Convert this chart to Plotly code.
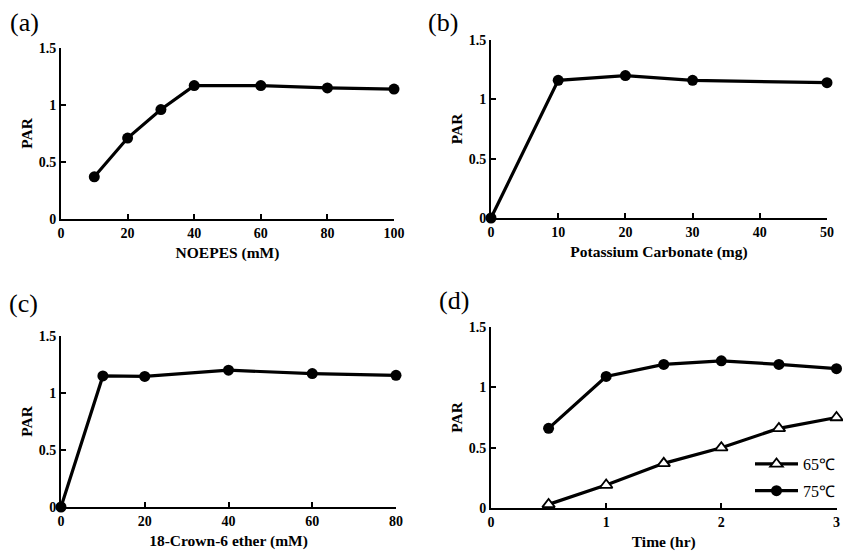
import plotly.graph_objects as go

# ---- data ----
a_x = [10, 20, 30, 40, 60, 80, 100]
a_y = [0.37, 0.71, 0.96, 1.17, 1.17, 1.15, 1.14]

b_x = [0, 10, 20, 30, 50]
b_y = [0.0, 1.16, 1.20, 1.16, 1.14]

c_x = [0, 10, 20, 40, 60, 80]
c_y = [0.0, 1.15, 1.145, 1.20, 1.17, 1.155]

d_x = [0.5, 1, 1.5, 2, 2.5, 3]
d_y65 = [0.03, 0.19, 0.37, 0.50, 0.66, 0.75]
d_y75 = [0.66, 1.09, 1.19, 1.22, 1.19, 1.155]

W, H = 843, 554
SERIF = "Liberation Serif"

fig = go.Figure()

line = dict(color="black", width=3.2)
circ = dict(symbol="circle", size=11, color="black")

fig.add_trace(go.Scatter(x=a_x, y=a_y, mode="lines+markers", line=line, marker=circ,
                         xaxis="x", yaxis="y", showlegend=False, cliponaxis=False))
fig.add_trace(go.Scatter(x=b_x, y=b_y, mode="lines+markers", line=line, marker=circ,
                         xaxis="x2", yaxis="y2", showlegend=False, cliponaxis=False))
fig.add_trace(go.Scatter(x=c_x, y=c_y, mode="lines+markers", line=line, marker=circ,
                         xaxis="x3", yaxis="y3", showlegend=False, cliponaxis=False))
fig.add_trace(go.Scatter(x=d_x, y=d_y65, mode="lines+markers", line=line,
                         marker=dict(symbol="triangle-up", size=11, color="white",
                                     line=dict(color="black", width=1.8)),
                         xaxis="x4", yaxis="y4", name="65℃", legendgroup="g1", cliponaxis=False))
fig.add_trace(go.Scatter(x=d_x, y=d_y75, mode="lines+markers", line=line, marker=circ,
                         xaxis="x4", yaxis="y4", name="75℃", legendgroup="g2", cliponaxis=False))

def px_x(p):
    return p / W

def px_y(p):
    return 1 - p / H

tickfont = dict(family=SERIF, size=14, color="black", weight="bold")
titlefont = dict(family=SERIF, size=15.5, color="black", weight="bold")

def xax(domain, anchor, rng, dtick, title):
    return dict(domain=domain, anchor=anchor, range=rng, dtick=dtick, tick0=0,
                showgrid=False, zeroline=False, showline=True, linecolor="black", linewidth=2,
                ticks="inside", ticklen=5, tickwidth=2, tickcolor="black",
                tickfont=tickfont, title=dict(text=title, font=titlefont, standoff=7),
                automargin=False, fixedrange=True)

def yax(domain, anchor, title):
    return dict(domain=domain, anchor=anchor, range=[0, 1.5], dtick=0.5, tick0=0,
                showgrid=False, zeroline=False, showline=True, linecolor="black", linewidth=2,
                ticks="inside", ticklen=5, tickwidth=2, tickcolor="black",
                tickfont=tickfont, title=dict(text=title, font=titlefont, standoff=2),
                automargin=False, fixedrange=True)

fig.update_layout(
    width=W, height=H,
    margin=dict(l=0, r=0, t=0, b=0),
    paper_bgcolor="white", plot_bgcolor="white",
    font=dict(family=SERIF, color="black"),
    xaxis=xax([px_x(61), px_x(394)], "y", [0, 100], 20, "NOEPES (mM)"),
    yaxis=yax([px_y(219), px_y(48)], "x", "PAR"),
    xaxis2=xax([px_x(491), px_x(827)], "y2", [0, 50], 10, "Potassium Carbonate (mg)"),
    yaxis2=yax([px_y(218), px_y(40)], "x2", "PAR"),
    xaxis3=xax([px_x(61), px_x(396)], "y3", [0, 80], 20, "18-Crown-6 ether (mM)"),
    yaxis3=yax([px_y(507), px_y(336)], "x3", "PAR"),
    xaxis4=xax([px_x(491), px_x(836.5)], "y4", [0, 3], 1, "Time (hr)"),
    yaxis4=yax([px_y(508), px_y(327)], "x4", "PAR"),
    legend=dict(x=px_x(750), y=px_y(447), xanchor="left", yanchor="top",
                bgcolor="rgba(0,0,0,0)", font=dict(family=SERIF, size=16, color="black"),
                traceorder="grouped", tracegroupgap=3, itemwidth=43),
    showlegend=True,
)

labels = [("(a)", 8, 22), ("(b)", 426, 22), ("(c)", 7, 303), ("(d)", 437, 300)]
for t, x, y in labels:
    fig.add_annotation(text=t, x=px_x(x), y=px_y(y), xref="paper", yref="paper",
                       xanchor="left", yanchor="middle", showarrow=False,
                       font=dict(family=SERIF, size=26, color="black"))

fig.write_html("out.html", config={"displayModeBar": False},
               post_script="document.body.style.margin='0';document.body.style.overflow='hidden';")
